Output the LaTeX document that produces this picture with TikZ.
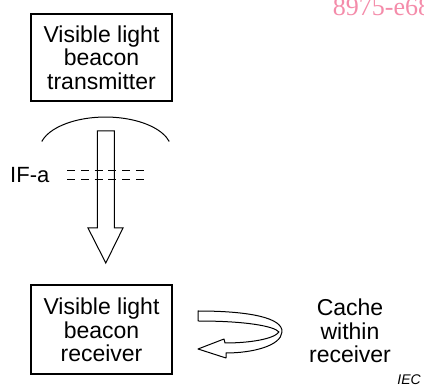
\documentclass[tikz,border=0pt]{standalone}
\usepackage{fontspec}
\setmainfont{Liberation Sans}
\newfontfamily\wmfont{Liberation Serif}
\definecolor{wmpink}{RGB}{244,140,170}
\begin{document}
\begin{tikzpicture}[x=1pt,y=-1pt,
  boxline/.style={draw=black,line width=1.3pt},
  lbl/.style={align=center,inner sep=0pt,font=\fontsize{23}{23.6}\selectfont},
  thinline/.style={draw=black,line width=1pt},
  hollow/.style={draw=black,fill=white,line width=1pt,line join=miter}]
\useasboundingbox (0,0) rectangle (424,387);
\begin{scope}
\clip (0,0) rectangle (424,387);
% watermark
\node[anchor=base west,inner sep=0pt,text=wmpink,font=\wmfont\fontsize{26}{26}\selectfont] (wm) at (332.7,15.5) {8975-e68};
\end{scope}
% transmitter box
\draw[boxline] (31,14) rectangle (172,101);
\node[lbl] (tx) at (101.5,57.5) {Visible light\\beacon\\transmitter};
% arc
\draw[thinline] (41.75,141.5) arc[start angle=165,end angle=15,x radius=66,y radius=-33];
% hollow down arrow
\draw[hollow] (97.3,131) -- (114.3,131) -- (114.3,228) -- (123,228) -- (105.8,263) -- (88,228) -- (97.3,228) -- cycle;
% dashed lines
\coordinate (d1a) at (67.3,171);
\coordinate (d1b) at (145,171);
\coordinate (d2a) at (67.3,180);
\coordinate (d2b) at (145,180);
\draw[thinline,dash pattern=on 7.8pt off 5.9pt] (d1a) -- (d1b);
\draw[thinline,dash pattern=on 7.8pt off 5.9pt] (d2a) -- (d2b);
\node[anchor=base west,inner sep=0pt,font=\fontsize{22}{22}\selectfont] (ifa) at (10,183) {IF-a};
% receiver box
\draw[boxline] (31,285) rectangle (172,374);
\node[lbl] (rx) at (101.5,330) {Visible light\\beacon\\receiver};
% curved arrow
\draw[hollow,line join=round] (198,311) .. controls (250,311) and (283,318) .. (282,332)
  .. controls (281,346) and (252,353) .. (226,353) -- (226,358) -- (198,349) -- (224,339) -- (225,343)
  .. controls (250,343) and (274,339) .. (279,332)
  .. controls (274,326) and (245,321) .. (198,321) -- cycle;
% cache text
\node[lbl] (cache) at (350,331) {Cache\\within\\receiver};
\node[anchor=base east,inner sep=0pt,font=\fontsize{14}{14}\selectfont\itshape] (iec) at (421,384.5) {IEC};
\end{tikzpicture}
\end{document}
